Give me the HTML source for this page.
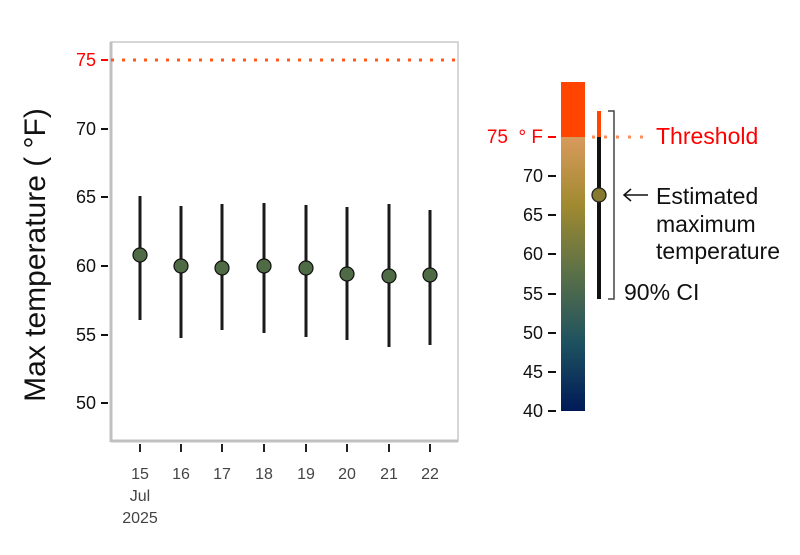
<!DOCTYPE html>
<html><head><style>body{margin:0;background:#fff}svg text{font-family:"Liberation Sans",sans-serif}</style></head><body>
<svg width="800" height="550" xmlns="http://www.w3.org/2000/svg">
<defs><linearGradient id="g" x1="0" y1="0" x2="0" y2="1">
<stop offset="0" stop-color="#d89a5c"/><stop offset="0.25" stop-color="#a08a30"/><stop offset="0.5" stop-color="#5a7048"/><stop offset="0.75" stop-color="#1e5260"/><stop offset="1" stop-color="#001a57"/></linearGradient></defs>
<rect x="111" y="42" width="347" height="399" fill="none" stroke="#c8c8c8" stroke-width="1.5"/>
<line x1="111" y1="42" x2="111" y2="442" stroke="#c0c0c0" stroke-width="3"/>
<line x1="111" y1="441" x2="458" y2="441" stroke="#c0c0c0" stroke-width="3"/>
<line x1="111" y1="60" x2="458" y2="60" stroke="#ff5a1e" stroke-width="3" stroke-dasharray="3,8"/>
<g stroke="#111" stroke-width="2">
<line x1="101" y1="60" x2="108" y2="60" stroke="#f00"/><line x1="101" y1="129" x2="108" y2="129"/><line x1="101" y1="197" x2="108" y2="197"/><line x1="101" y1="266" x2="108" y2="266"/><line x1="101" y1="335" x2="108" y2="335"/><line x1="101" y1="403" x2="108" y2="403"/>
</g>
<g font-size="18" text-anchor="end" fill="#111">
<text x="96" y="66" fill="#f00">75</text><text x="96" y="135">70</text><text x="96" y="203">65</text><text x="96" y="272">60</text><text x="96" y="341">55</text><text x="96" y="409">50</text></g>
<text transform="translate(45,255) rotate(-90)" font-size="30" text-anchor="middle" fill="#111" xml:space="preserve">Max temperature ( °F)</text>
<g stroke="#222" stroke-width="2">
<line x1="140" y1="444" x2="140" y2="452"/><line x1="181" y1="444" x2="181" y2="452"/><line x1="222" y1="444" x2="222" y2="452"/><line x1="264" y1="444" x2="264" y2="452"/><line x1="306" y1="444" x2="306" y2="452"/><line x1="347" y1="444" x2="347" y2="452"/><line x1="389" y1="444" x2="389" y2="452"/><line x1="430" y1="444" x2="430" y2="452"/></g>
<g font-size="16" text-anchor="middle" fill="#444">
<text x="140" y="479">15</text><text x="181" y="479">16</text><text x="222" y="479">17</text><text x="264" y="479">18</text><text x="306" y="479">19</text><text x="347" y="479">20</text><text x="389" y="479">21</text><text x="430" y="479">22</text>
<text x="140" y="501">Jul</text><text x="140" y="523">2025</text></g>
<g stroke="#1a1a1a" stroke-width="3">
<line x1="140" y1="196" x2="140" y2="320"/><line x1="181" y1="206" x2="181" y2="338"/><line x1="222" y1="204" x2="222" y2="330"/><line x1="264" y1="203" x2="264" y2="333"/><line x1="306" y1="205" x2="306" y2="337"/><line x1="347" y1="207" x2="347" y2="340"/><line x1="389" y1="204" x2="389" y2="347"/><line x1="430" y1="210" x2="430" y2="345"/></g>
<g fill="#4f6b45" stroke="#111" stroke-width="1.2">
<circle cx="140" cy="255" r="7"/><circle cx="181" cy="266" r="7"/><circle cx="222" cy="268" r="7"/><circle cx="264" cy="266" r="7"/><circle cx="306" cy="268" r="7"/><circle cx="347" cy="274" r="7"/><circle cx="389" cy="276" r="7"/><circle cx="430" cy="275" r="7"/></g>
<rect x="561" y="82" width="24" height="55" fill="#ff4500"/>
<rect x="561" y="137" width="24" height="274" fill="url(#g)"/>
<g stroke="#111" stroke-width="2">
<line x1="548" y1="137" x2="556" y2="137" stroke="#f00"/><line x1="548" y1="176" x2="556" y2="176"/><line x1="548" y1="215" x2="556" y2="215"/><line x1="548" y1="254" x2="556" y2="254"/><line x1="548" y1="294" x2="556" y2="294"/><line x1="548" y1="333" x2="556" y2="333"/><line x1="548" y1="372" x2="556" y2="372"/><line x1="548" y1="411" x2="556" y2="411"/></g>
<g font-size="18" text-anchor="end" fill="#111">
<text x="543" y="143" fill="#f00" font-size="19" xml:space="preserve">75  ° F</text><text x="543" y="182">70</text><text x="543" y="221">65</text><text x="543" y="260">60</text><text x="543" y="300">55</text><text x="543" y="339">50</text><text x="543" y="378">45</text><text x="543" y="417">40</text></g>
<line x1="599" y1="111" x2="599" y2="137" stroke="#ff4500" stroke-width="4"/>
<line x1="599" y1="137" x2="599" y2="299" stroke="#111" stroke-width="4"/>
<line x1="592" y1="137" x2="650" y2="137" stroke="#ff8a5a" stroke-width="3" stroke-dasharray="3,9"/>
<polyline points="608,111 614,111 614,299 608,299" fill="none" stroke="#444" stroke-width="1.5"/>
<circle cx="599" cy="195" r="7" fill="#857a30" stroke="#222" stroke-width="1.3"/>
<line x1="624" y1="195" x2="648" y2="195" stroke="#111" stroke-width="1.5"/>
<polyline points="631,189 624,195 631,201" fill="none" stroke="#111" stroke-width="1.5"/>
<g font-size="23" fill="#111">
<text x="656" y="144" fill="#f00">Threshold</text>
<text x="656" y="204">Estimated</text><text x="656" y="232">maximum</text><text x="656" y="259">temperature</text>
<text x="624" y="300">90% CI</text></g>
</svg></body></html>
